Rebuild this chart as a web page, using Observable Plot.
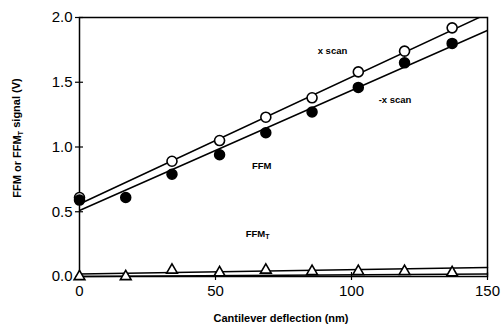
<!DOCTYPE html>
<html><head><meta charset="utf-8">
<script src="https://cdn.jsdelivr.net/npm/d3@7"></script>
<script src="https://cdn.jsdelivr.net/npm/@observablehq/plot@0.6"></script>
<style>body{margin:0;background:#fff}#chart svg{display:block}</style>
</head><body><div id="chart"></div>
<script>
// Cantilever deflection (nm)
const deflection = [0, 17, 34, 51.5, 68.5, 85.5, 102.5, 119.5, 137];
// FFM signal, x scan (open circles)
const xScan = [0.61, null, 0.89, 1.05, 1.23, 1.38, 1.58, 1.74, 1.92];
// FFM signal, -x scan (filled circles)
const minusXScan = [0.59, 0.61, 0.79, 0.94, 1.11, 1.27, 1.46, 1.65, 1.80];
// FFM_T signal (triangles)
const ffmT = [0.0, 0.0, 0.05, 0.03, 0.05, 0.04, 0.04, 0.04, 0.03];
// fitted lines (endpoints)
const fitDeflection = [0, 150];
const fitXScan = [0.56, 2.03];
const fitMinusXScan = [0.51, 1.90];
const fitT1 = [0.02, 0.07];
const fitT2 = [0.0, 0.02];
const xTicks = [0, 50, 100, 150];
const yTicks = [0, 0.5, 1.0, 1.5, 2.0];

const pts = deflection.map((d, i) => ({d, xs: xScan[i], mxs: minusXScan[i], t: ffmT[i]}));
const fit = fitDeflection.map((d, i) => ({d, a: fitXScan[i], b: fitMinusXScan[i], t1: fitT1[i], t2: fitT2[i]}));

const font = "Liberation Sans, Arial, Helvetica, sans-serif";
const plot = Plot.plot({
  width: 504, height: 327,
  marginLeft: 79, marginRight: 17, marginTop: 17, marginBottom: 51,
  style: {fontFamily: font, color: "#000", background: "#fff"},
  x: {domain: [0, 150]},
  y: {domain: [0, 2.0]},
  marks: [
    Plot.frame({stroke: "#000", strokeWidth: 1.5}),
    Plot.axisX({ticks: xTicks, tickSize: 4, tickPadding: 5, fontSize: 15, tickFormat: d3.format("d"), label: null, stroke: "#000", strokeWidth: 1.2}),
    Plot.axisX({ticks: xTicks, tickSize: -4, text: null, label: null, stroke: "#000", strokeWidth: 1.2}),
    Plot.axisY({ticks: yTicks, tickSize: 4, tickPadding: 3, fontSize: 15, tickFormat: d3.format(".1f"), label: null, stroke: "#000", strokeWidth: 1.2}),
    Plot.axisY({ticks: yTicks, tickSize: -4, text: null, label: null, stroke: "#000", strokeWidth: 1.2}),
    Plot.line(fit, {x: "d", y: "a", stroke: "#000", strokeWidth: 1.5, clip: true}),
    Plot.line(fit, {x: "d", y: "b", stroke: "#000", strokeWidth: 1.5, clip: true}),
    Plot.line(fit, {x: "d", y: "t1", stroke: "#000", strokeWidth: 1.5}),
    Plot.line(fit, {x: "d", y: "t2", stroke: "#000", strokeWidth: 1.5}),
    Plot.dot(pts.filter(p => p.xs != null), {x: "d", y: "xs", r: 5, fill: "#fff", stroke: "#000", strokeWidth: 1.6}),
    Plot.dot(pts, {x: "d", y: "mxs", r: 5, fill: "#000", stroke: "#000"}),
    Plot.dot(pts, {x: "d", y: "t", symbol: "triangle", r: 4, fill: "#fff", stroke: "#000", strokeWidth: 1.6}),
    Plot.text(["x scan"], {x: 93, y: 1.74, fontSize: 9.5, fontWeight: "bold", fill: "#000"}),
    Plot.text(["-x scan"], {x: 116, y: 1.36, fontSize: 9.5, fontWeight: "bold", fill: "#000"}),
    Plot.text(["FFM"], {x: 67, y: 0.85, fontSize: 9.5, fontWeight: "bold", fill: "#000"}),
    Plot.text(["FFMT"], {x: 65.5, y: 0.33, fontSize: 9.5, fontWeight: "bold", fill: "#000", className: "lbl-ffmt"})
  ]
});

const svg = d3.select(plot);
// subscript T on FFMT label
svg.selectAll(".lbl-ffmt text").each(function() {
  const t = d3.select(this);
  t.text(null);
  t.append("tspan").text("FFM");
  t.append("tspan").attr("font-size", 7).attr("dy", "0.3em").text("T");
});
// axis titles
svg.append("text")
  .attr("x", 281).attr("y", 322)
  .attr("text-anchor", "middle")
  .attr("font-family", font).attr("font-size", 11).attr("font-weight", "bold")
  .text("Cantilever deflection (nm)");
const yl = svg.append("text")
  .attr("transform", "translate(21,138) rotate(-90)")
  .attr("text-anchor", "middle")
  .attr("font-family", font).attr("font-size", 11).attr("font-weight", "bold");
yl.append("tspan").text("FFM or FFM");
yl.append("tspan").attr("font-size", 7.5).attr("dy", "0.3em").text("T");
yl.append("tspan").attr("dy", "-0.3em").text(" signal (V)");

document.getElementById("chart").appendChild(plot);
</script>
</body></html>
